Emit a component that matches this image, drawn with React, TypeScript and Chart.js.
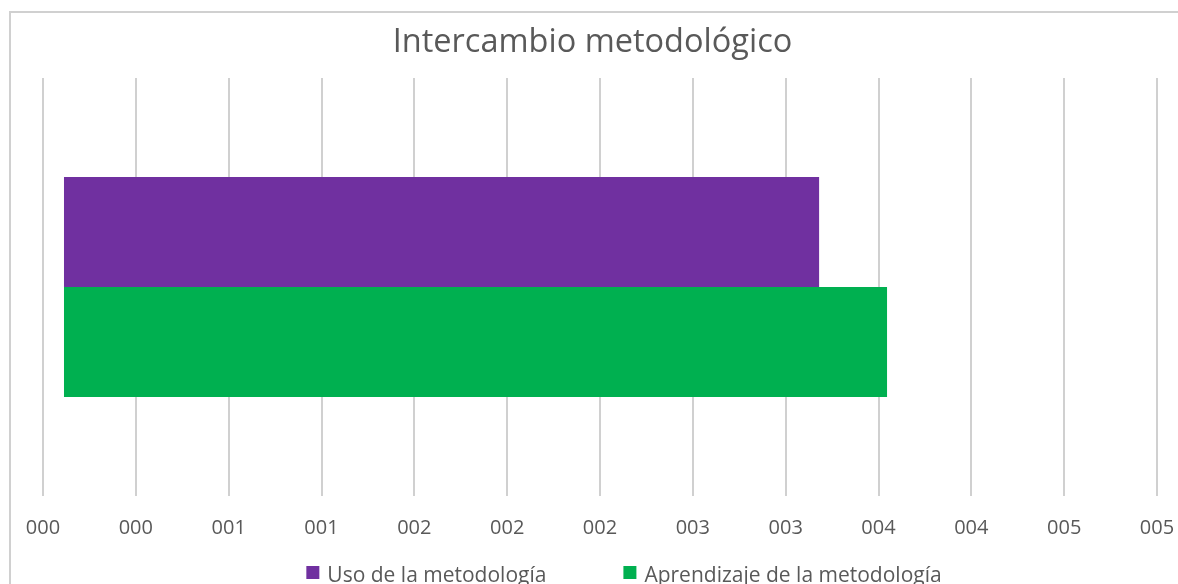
import React, { useEffect, useRef } from "react";
import { Chart, registerables } from "chart.js";

Chart.register(...registerables);

const titleText = "Intercambio metodológico";
const categories = [""];
const seriesNames = ["Uso de la metodología", "Aprendizaje de la metodología"];
const usoValues = [3.457];
const aprendizajeValues = [3.768];
const seriesColors = ["#7030A0", "#00B050"];
const xTickLabels = ["000", "000", "001", "001", "002", "002", "002", "003", "003", "004", "004", "005", "005"];
const X_MIN = -0.0961;
const X_STEP = 0.425;

const TEXT = "#595959";
const FONT = "'Open Sans'";

const bottomLegend = {
  id: "bottomLegend",
  afterDraw(chart: any) {
    const ctx = chart.ctx;
    ctx.save();
    ctx.font = `21px ${FONT}`;
    ctx.textBaseline = "alphabetic";
    const box = 13;
    const gap = 8;
    const itemGap = 77;
    const items = chart.data.datasets.map((ds: any) => ({
      label: ds.label,
      color: ds.backgroundColor,
      w: ctx.measureText(ds.label).width,
    }));
    const total =
      items.reduce((s: number, it: any) => s + box + gap + it.w, 0) + itemGap * (items.length - 1);
    let x = 624 - total / 2;
    for (const it of items) {
      ctx.fillStyle = it.color;
      ctx.fillRect(x, 566, box, box);
      ctx.fillStyle = TEXT;
      ctx.fillText(it.label, x + box + gap, 582);
      x += box + gap + it.w + itemGap;
    }
    ctx.restore();
  },
};

export default function App() {
  const ref = useRef<HTMLCanvasElement | null>(null);

  useEffect(() => {
    if (!ref.current) return;
    const chart = new Chart(ref.current, {
      type: "bar",
      data: {
        labels: categories,
        datasets: [
          {
            label: seriesNames[0],
            data: usoValues,
            backgroundColor: seriesColors[0],
            borderWidth: 0,
            categoryPercentage: 0.5264,
            barPercentage: 1,
          },
          {
            label: seriesNames[1],
            data: aprendizajeValues,
            backgroundColor: seriesColors[1],
            borderWidth: 0,
            categoryPercentage: 0.5264,
            barPercentage: 1,
          },
        ],
      },
      options: {
        indexAxis: "y",
        animation: false,
        responsive: false,
        devicePixelRatio: 1,
        layout: { padding: { left: 7, right: 0, top: 0, bottom: 23.4 } },
        plugins: {
          legend: { display: false },
          tooltip: { enabled: false },
          title: {
            display: true,
            text: titleText,
            color: TEXT,
            font: { family: FONT, size: 32.5, weight: "normal", lineHeight: 1.2 },
            padding: { top: 23.6, bottom: 15.4 },
          },
        },
        scales: {
          x: {
            type: "linear",
            min: X_MIN,
            max: X_MIN + X_STEP * (xTickLabels.length - 1),
            afterBuildTicks: (axis: any) => {
              axis.ticks = xTickLabels.map((_, i) => ({ value: X_MIN + i * X_STEP }));
            },
            afterFit: (axis: any) => {
              axis.paddingRight = 21;
            },
            grid: { color: "#d0d0d0", lineWidth: 2, drawTicks: false },
            border: { display: false },
            ticks: {
              autoSkip: false,
              maxRotation: 0,
              padding: 20.3,
              color: TEXT,
              font: { family: FONT, size: 20, lineHeight: 1.2 },
              callback: (_v: any, i: number) => xTickLabels[i],
            },
          },
          y: {
            type: "category",
            grid: { display: false },
            border: { display: false },
            ticks: { display: false },
            afterFit: (axis: any) => {
              axis.width = 36;
            },
          },
        },
      },
      plugins: [bottomLegend],
    });
    return () => chart.destroy();
  }, []);

  return (
    <div style={{ position: "absolute", left: 0, top: 0, width: 1178, height: 584, overflow: "hidden", background: "#fff" }}>
      <div
        style={{
          position: "absolute",
          left: 9,
          top: 11,
          width: 1400,
          height: 800,
          border: "2px solid #d0d0d0",
        }}
      />
      <canvas
        ref={ref}
        width={1178}
        height={584}
        style={{ position: "absolute", left: 0, top: 0, width: 1178, height: 584 }}
      />
    </div>
  );
}
